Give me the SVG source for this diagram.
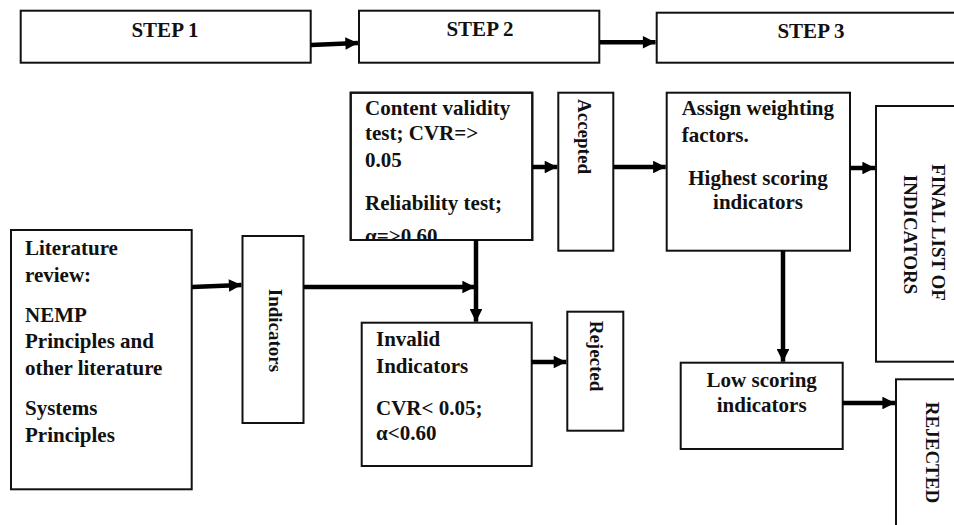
<svg xmlns="http://www.w3.org/2000/svg" width="954" height="525" viewBox="0 0 954 525">
<style>
.box{fill:#fff;stroke:#111;stroke-width:2}
.t{font-family:"Liberation Serif","Times New Roman",serif;font-weight:bold;font-size:21px;fill:#111}
.c{text-anchor:middle}
.v{font-family:"Liberation Serif","Times New Roman",serif;font-weight:bold;font-size:19px;fill:#111;text-anchor:middle;dominant-baseline:central}
.ln{stroke:#000;stroke-width:4.5;fill:none}
</style>
<defs>
<marker id="ah" viewBox="0 0 10 10" refX="10" refY="5" markerWidth="3" markerHeight="2.8" orient="auto" markerUnits="strokeWidth">
<path d="M0,0 L10,5 L0,10 z" fill="#000"/>
</marker>
<clipPath id="cvclip"><rect x="350.7" y="92.7" width="181.6" height="147.3"/></clipPath>
</defs>
<rect width="954" height="525" fill="#fff"/>

<g id="step1"><rect class="box" x="20.7" y="10.7" width="290" height="52"/><text class="t c" x="165" y="36.5">STEP 1</text></g>
<g id="step2"><rect class="box" x="359" y="10.7" width="240.3" height="52"/><text class="t c" x="480" y="36">STEP 2</text></g>
<g id="step3"><rect class="box" x="656.7" y="12.7" width="310" height="50"/><text class="t c" x="811" y="38">STEP 3</text></g>

<g id="literature"><rect class="box" x="11" y="230" width="180.7" height="259.3"/>
<text class="t" x="25" y="255">Literature</text>
<text class="t" x="25" y="281.7">review:</text>
<text class="t" x="25" y="321.7">NEMP</text>
<text class="t" x="25" y="348.3">Principles and</text>
<text class="t" x="25" y="375">other literature</text>
<text class="t" x="25" y="415">Systems</text>
<text class="t" x="25" y="441.7">Principles</text>
</g>

<g id="indicators"><rect class="box" x="242.5" y="236" width="61" height="187"/><text class="v" x="275" y="330.5" transform="rotate(90 275 330.5)">Indicators</text></g>

<g id="content"><rect class="box" x="350.7" y="92.7" width="181.6" height="147.3"/>
<g clip-path="url(#cvclip)">
<text class="t" x="365" y="115">Content validity</text>
<text class="t" x="365" y="140">test; CVR=&gt;</text>
<text class="t" x="365" y="167">0.05</text>
<text class="t" x="365" y="210">Reliability test;</text>
<text class="t" x="365" y="243">α=&gt;0.60</text>
</g>
<rect x="350.7" y="92.7" width="181.6" height="147.3" fill="none" stroke="#111" stroke-width="2"/>
</g>

<g id="accepted"><rect class="box" x="558.3" y="92.7" width="55" height="158"/><text class="v" x="584" y="136.5" transform="rotate(90 584 136.5)">Accepted</text></g>

<g id="assign"><rect class="box" x="666.7" y="92.7" width="183.3" height="158"/>
<text class="t" x="681.7" y="115">Assign weighting</text>
<text class="t" x="681.7" y="141.7">factors.</text>
<text class="t c" x="758" y="185">Highest scoring</text>
<text class="t c" x="758" y="209">indicators</text>
</g>

<g id="final"><rect class="box" x="876" y="106" width="90" height="255.7"/>
<text class="v" x="938" y="232.5" transform="rotate(90 938 232.5)">FINAL LIST OF</text>
<text class="v" x="910" y="234.5" transform="rotate(90 910 234.5)">INDICATORS</text>
</g>

<g id="invalid"><rect class="box" x="361.7" y="322.7" width="170" height="143.3"/>
<text class="t" x="376" y="346">Invalid</text>
<text class="t" x="376" y="373.3">Indicators</text>
<text class="t" x="376" y="415">CVR&lt; 0.05;</text>
<text class="t" x="376" y="440">α&lt;0.60</text>
</g>

<g id="rejected1"><rect class="box" x="567.3" y="311.7" width="56" height="119"/><text class="v" x="596" y="356" transform="rotate(90 596 356)">Rejected</text></g>

<g id="lowscoring"><rect class="box" x="680.7" y="362.7" width="162" height="86.3"/>
<text class="t c" x="761.7" y="386.7">Low scoring</text>
<text class="t c" x="761.7" y="411.7">indicators</text>
</g>

<g id="rejected2"><rect class="box" x="896" y="379.3" width="70" height="160"/><text class="v" x="932" y="452.5" transform="rotate(90 932 452.5)">REJECTED</text></g>

<g id="connectors">
<line class="ln" x1="311" y1="45" x2="358" y2="43" marker-end="url(#ah)"/>
<line class="ln" x1="600" y1="42.3" x2="655.5" y2="42.3" marker-end="url(#ah)"/>
<line class="ln" x1="192" y1="287" x2="241.5" y2="285" marker-end="url(#ah)"/>
<line class="ln" x1="303.5" y1="287" x2="475" y2="287" marker-end="url(#ah)"/>
<line class="ln" x1="476" y1="240" x2="476" y2="321.7" marker-end="url(#ah)"/>
<line class="ln" x1="532.3" y1="167" x2="557.3" y2="167" marker-end="url(#ah)"/>
<line class="ln" x1="613.3" y1="167" x2="665.7" y2="167" marker-end="url(#ah)"/>
<line class="ln" x1="850" y1="168" x2="875" y2="168" marker-end="url(#ah)"/>
<line class="ln" x1="783" y1="250.7" x2="783" y2="361.7" marker-end="url(#ah)"/>
<line class="ln" x1="531.7" y1="362" x2="566.3" y2="362" marker-end="url(#ah)"/>
<line class="ln" x1="842.7" y1="403" x2="895" y2="403" marker-end="url(#ah)"/>
</g>
</svg>
